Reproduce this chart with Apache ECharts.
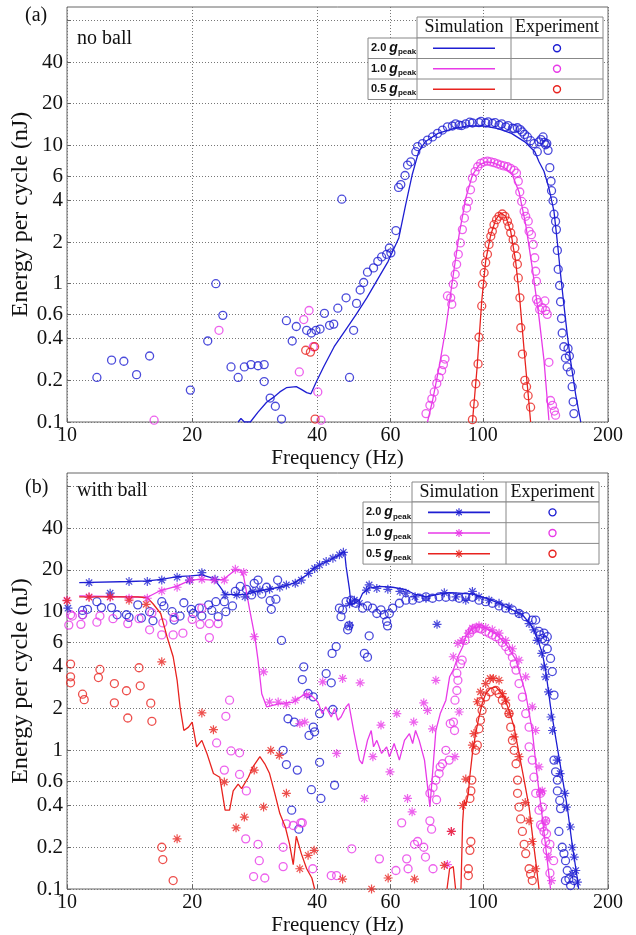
<!DOCTYPE html>
<html>
<head>
<meta charset="utf-8">
<script src="https://cdn.jsdelivr.net/npm/echarts@6/dist/echarts.min.js"></script>
<style>
  html, body { margin: 0; background: #fff; }
  #chart { width: 636px; height: 935px; }
</style>
</head>
<body>
<div id="chart"></div>
<script>
// ---- tick values ----
const xTicks = [10, 20, 40, 60, 100, 200]
const yLabels = [0.1, 0.2, 0.4, 0.6, 1, 2, 4, 6, 10, 20, 40]
const yGridVals = [0.1, 0.2, 0.4, 0.6, 1, 2, 4, 6, 10, 20, 40, 80]
const levels = ['2.0', '1.0', '0.5']

// ---- (a) no ball : [frequency Hz, energy nJ] ----
const aSim20 = [[25.8, 0.1], [26.2, 0.106], [26.7, 0.1], [27.6, 0.1], [28.8, 0.118], [30.2, 0.139], [31.3, 0.15], [32.5, 0.165], [33.7, 0.177], [35.6, 0.18], [36.6, 0.172], [37.7, 0.163], [38.6, 0.16], [39.6, 0.19], [41.4, 0.25], [43.9, 0.35], [46.7, 0.46], [49.6, 0.6], [52.6, 0.79], [55.8, 1.07], [59.2, 1.45], [62.8, 2.14], [65.2, 3.7], [67.6, 6.1], [70.1, 9.0], [72.7, 10.6], [78.0, 12.2], [84.9, 13.2], [92.2, 13.8], [100.2, 13.8], [108.8, 13.2], [117.2, 12.2], [126.2, 10.6], [133.4, 9.0], [136.5, 7.6], [140.3, 6.5], [144.2, 4.9], [148.3, 3.33], [151, 2.03], [153.8, 1.17], [156.6, 0.71], [159.6, 0.43], [162.5, 0.28], [167.1, 0.16], [172, 0.1]]
const aExp20 = [[11.8, 0.21], [12.8, 0.28], [13.7, 0.275], [14.7, 0.22], [15.8, 0.3], [19.8, 0.17], [21.8, 0.385], [22.8, 1.0], [23.7, 0.59], [24.8, 0.25], [25.8, 0.21], [26.7, 0.25], [27.7, 0.26], [28.8, 0.255], [29.8, 0.26], [29.8, 0.196], [30.8, 0.149], [31.7, 0.13], [32.8, 0.105], [33.7, 0.54], [34.8, 0.385], [35.6, 0.49], [37.7, 0.46], [38.7, 0.44], [39.7, 0.46], [40.6, 0.47], [41.6, 0.61], [42.8, 0.5], [43.8, 0.51], [44.8, 0.665], [45.8, 4.08], [46.9, 0.79], [47.8, 0.21], [48.9, 0.46], [49.7, 0.72], [50.7, 0.9], [51.7, 1.02], [52.8, 1.21], [54.6, 1.3], [55.9, 1.45], [57.1, 1.56], [58.7, 1.63], [59.6, 1.81], [60.1, 1.67], [61.8, 2.42], [62.7, 4.96], [63.5, 5.2], [65.0, 6.05], [65.9, 7.2], [67.1, 7.6], [69.0, 9.0], [69.7, 9.8], [71.6, 10.3], [73.6, 10.9], [75.7, 11.5], [77.8, 12.2], [80.0, 12.9], [82.2, 13.6], [84.5, 13.8], [86, 14.3], [87.7, 14.0], [89, 13.9], [91.0, 14.3], [93, 14.7], [94.4, 14.5], [97.9, 14.6], [99, 14.9], [101.6, 14.5], [103, 14.8], [105.4, 14.4], [107, 14.6], [109.4, 14.0], [111, 14.3], [113.5, 13.6], [115, 13.9], [117.8, 13.3], [119, 13.2], [121.1, 13.4], [123, 13.0], [124.5, 12.5], [126, 12.0], [128, 11.5], [130.3, 10.8], [132.7, 10.3], [135.2, 9.0], [136.5, 10.6], [138, 11.0], [139.6, 11.5], [140.5, 10.5], [141.6, 10.1], [142.5, 10.3], [143.5, 9.2], [144.9, 6.9], [145.9, 5.5], [146.3, 4.7], [147.5, 3.97], [148.3, 3.18], [149.6, 2.82], [150.3, 2.46], [151.1, 1.74], [151.8, 1.27], [153.0, 0.97], [153.8, 0.74], [154.6, 0.56], [155.2, 0.44], [156.6, 0.35], [158, 0.29], [159.5, 0.25], [160.3, 0.34], [161.5, 0.3], [162.5, 0.23], [164, 0.18], [164.9, 0.14], [165.6, 0.115]]
const aSim10 = [[73.6, 0.1], [75.7, 0.143], [78.5, 0.249], [81.5, 0.48], [84.5, 1.05], [87.7, 2.26], [91.0, 4.16], [94.4, 6.1], [97.9, 7.2], [101.6, 7.6], [105.4, 7.5], [109.4, 7.2], [113.5, 6.8], [117.8, 6.1], [122.2, 4.6], [126.8, 2.67], [131.5, 1.3], [136.5, 0.57], [140.3, 0.28], [144.2, 0.103]]
const aExp10 = [[16.2, 0.103], [23.2, 0.46], [36.2, 0.23], [37.1, 0.55], [38.2, 0.64], [39.1, 0.35], [40.1, 0.165], [40.8, 0.103], [73.0, 0.115], [74.6, 0.132], [75.4, 0.147], [76.4, 0.165], [77.5, 0.19], [78.5, 0.21], [79.6, 0.235], [80.4, 0.26], [81.1, 0.285], [82.2, 0.815], [83.7, 0.79], [84.2, 0.71], [84.9, 0.99], [85.8, 1.17], [86.5, 1.38], [87.3, 1.63], [88.3, 1.97], [89.3, 2.46], [90.3, 2.98], [91.4, 3.52], [92.3, 3.93], [93.4, 4.77], [94.4, 5.79], [95.8, 6.46], [97.2, 7.0], [98.8, 7.4], [100.7, 7.6], [102.6, 7.7], [104.5, 7.6], [106.4, 7.5], [108.4, 7.35], [110.4, 7.2], [112.4, 7.1], [114.6, 7.0], [116.7, 6.8], [118.9, 6.6], [120.5, 6.3], [121.7, 5.5], [122.7, 4.6], [124, 3.93], [125.7, 3.33], [126.8, 3.07], [128.6, 2.83], [129.2, 2.39], [130.9, 2.26], [132.2, 1.92], [133.3, 1.54], [134, 1.23], [134.6, 1.04], [134.6, 0.77], [135.9, 0.73], [137, 0.65], [139, 0.67], [141, 0.75], [141.6, 0.64], [142.9, 0.6], [144.2, 0.27], [145.5, 0.143], [147.1, 0.132], [148.6, 0.12], [149.6, 0.112]]
const aSim05 = [[94.4, 0.1], [96.9, 0.25], [99.4, 0.75], [101.6, 1.46], [104.5, 2.26], [107.4, 2.9], [110.4, 3.24], [113.5, 3.07], [116.7, 2.39], [119.9, 1.46], [122.8, 0.75], [125.7, 0.33], [128.5, 0.16], [130.3, 0.1]]
const aExp05 = [[37.5, 0.33], [38.5, 0.32], [39.4, 0.35], [39.5, 0.105], [94.4, 0.104], [95.3, 0.135], [96.2, 0.189], [97.4, 0.263], [97.9, 0.41], [99.4, 0.69], [99.8, 0.99], [100.7, 1.2], [101.6, 1.42], [102.6, 1.63], [103.5, 1.92], [104.5, 2.2], [105.4, 2.39], [106.4, 2.67], [107.9, 2.9], [109.4, 3.07], [111.4, 3.19], [113, 3.07], [114.6, 2.83], [115.6, 2.6], [116.7, 2.33], [118.3, 2.08], [119.4, 1.81], [120.5, 1.58], [121.1, 1.38], [121.7, 1.1], [122.8, 0.79], [123.4, 0.48], [124.5, 0.31], [126.2, 0.2], [127.4, 0.18], [128.5, 0.155], [130.3, 0.128]]

// ---- (b) with ball ----
const bSim20Line = [[10.7, 16.2], [14.2, 16.5], [15.6, 16.7], [16.9, 17.1], [18.4, 17.9], [19.8, 18.1], [21.1, 18.4], [22.5, 17.4], [23.3, 15.2], [24.0, 13.4], [25.6, 13.2], [27.0, 13.4], [28.6, 14.0], [30.2, 14.5], [32.5, 15.0], [35.0, 16.0], [37.7, 18.4], [39.4, 20.8], [40.5, 21.7], [42.8, 23.6], [45.2, 25.7], [46.5, 27.2], [46.9, 21.2], [47.8, 14.4], [48.2, 11.2], [49.1, 11.5], [50.5, 12.1], [51.4, 13.6], [53.3, 14.8], [56.4, 15.2], [60.7, 15.0], [65.3, 14.4], [68.4, 13.4], [73.0, 12.8], [78.5, 13.4], [83.0, 13.7], [87.7, 13.6], [94.4, 13.4], [101.6, 12.5], [109.4, 11.5], [117.8, 10.3], [124.5, 9.5], [131.5, 7.8], [136.5, 5.9], [139, 5.0], [141.6, 3.79], [145.5, 2.06], [149.6, 1.25], [153.8, 0.76], [159.6, 0.39], [164, 0.21], [168.7, 0.12], [170, 0.1]]
const bSim20Stars = [[10.05, 10.6], [11.3, 16.2], [12.7, 13.6], [14.1, 16.5], [15.6, 16.5], [16.9, 16.9], [18.4, 17.7], [19.7, 16.9], [21.1, 19.1], [22.7, 17.1], [24.0, 13.2], [25.6, 13.2], [26.8, 12.8], [28.0, 14.0], [29.1, 14.3], [30.7, 14.5], [32.5, 15.0], [33.7, 15.6], [35.4, 16.0], [36.6, 16.9], [38.1, 18.9], [39.4, 20.5], [40.5, 21.7], [42.0, 23.0], [43.6, 24.3], [45.2, 25.7], [46.2, 26.8], [47.8, 8.0], [47.8, 11.4], [49.1, 12.1], [50.5, 11.5], [52.5, 14.3], [53.3, 15.6], [55.6, 14.7], [59.1, 14.5], [63.2, 14.0], [65.3, 13.6], [68.7, 12.8], [73.0, 12.5], [77.6, 8.1], [80.8, 13.7], [86.2, 12.8], [91.0, 12.1], [94.4, 14.0], [97.9, 12.8], [103.5, 12.1], [109.4, 11.5], [115.6, 10.8], [122.2, 9.7], [129.2, 8.2], [132.7, 7.4], [135.1, 6.2], [138.6, 5.0], [140.3, 4.0], [141.6, 3.39], [143.9, 2.64], [145.9, 1.74], [147.1, 1.39], [151, 0.85], [153.4, 0.68], [157.5, 0.49], [158.8, 0.39], [162.5, 0.28], [164, 0.2], [165.9, 0.17], [167.3, 0.136], [168.8, 0.112], [164.2, 0.128]]
const bExp20 = [[10.9, 10.2], [10.9, 9.5], [11.2, 10.4], [11.8, 11.8], [12.1, 10.7], [12.8, 10.7], [13.2, 9.5], [13.9, 9.5], [14.1, 9.1], [14.8, 11.2], [15.1, 9.0], [15.8, 10.0], [16.1, 8.6], [16.9, 11.8], [17.1, 11.0], [17.9, 10.0], [18.1, 8.7], [18.7, 9.3], [19.1, 11.6], [19.9, 10.4], [20.1, 9.7], [20.8, 10.6], [21.1, 9.3], [21.9, 11.2], [22.3, 10.2], [22.8, 11.8], [23.1, 9.2], [23.9, 11.8], [24.1, 10.0], [25.0, 11.0], [25.4, 14.0], [26.1, 15.2], [27.0, 14.5], [27.8, 13.2], [28.2, 16.0], [28.8, 16.9], [29.4, 13.4], [30.2, 15.0], [30.8, 12.0], [31.0, 10.4], [31.8, 12.3], [32.1, 16.9], [32.8, 6.2], [34.0, 1.69], [35.2, 1.6], [37.1, 4.0], [36.8, 3.24], [38.0, 2.57], [39.1, 2.43], [38.2, 1.28], [39.1, 1.47], [33.1, 1.0], [33.7, 0.79], [35.8, 0.72], [38.7, 0.52], [34.7, 0.37], [36.1, 0.27], [39.4, 1.36], [40.5, 1.84], [43.6, 1.97], [42.0, 3.58], [43.2, 3.07], [40.5, 0.82], [40.8, 0.45], [44.0, 0.56], [43.4, 5.0], [44.4, 5.6], [45.2, 10.6], [45.6, 9.2], [46.0, 10.3], [46.9, 11.8], [47.3, 7.4], [47.6, 7.9], [48.2, 12.1], [49.5, 11.5], [51.4, 10.6], [51.9, 5.0], [52.8, 4.7], [53.3, 6.7], [52.8, 11.0], [54.3, 10.6], [55.6, 9.7], [56.9, 10.3], [57.9, 9.5], [58.7, 8.5], [59.0, 7.9], [59.6, 9.7], [60.7, 10.6], [63.0, 11.5], [65.3, 12.1], [67.8, 12.1], [70.3, 12.5], [73.0, 12.8], [75.7, 12.5], [78.5, 12.8], [81.5, 12.7], [84.5, 12.8], [87.7, 12.5], [91.0, 12.8], [94.4, 12.7], [97.9, 12.1], [101.6, 11.8], [105.4, 11.5], [109.4, 11.0], [113.5, 10.6], [117.8, 10.3], [122.2, 9.7], [126.8, 9.2], [131.5, 8.7], [134, 8.7], [136.5, 7.2], [137.4, 6.8], [139.2, 6.4], [140.3, 7.0], [141, 6.2], [142.9, 6.6], [142.9, 5.4], [145.5, 4.6], [146.9, 3.7], [148.3, 2.5], [148.3, 0.85], [149.6, 0.7], [151.1, 0.61], [151.1, 0.51], [153.1, 0.435], [153.8, 0.38], [152.4, 0.26], [155.2, 0.2], [156.7, 0.18], [158.1, 0.16], [159.6, 0.136], [161.1, 0.118], [162.6, 0.106], [165.6, 0.115], [158, 0.115]]
const bSim10Line = [[10.7, 13.0], [15.6, 12.7], [16.7, 14.1], [18.4, 15.3], [19.8, 16.9], [20.9, 17.1], [22.5, 16.9], [23.8, 17.1], [25.4, 20.0], [26.1, 19.9], [26.6, 17.9], [27.5, 10.3], [28.3, 6.6], [28.8, 4.47], [29.4, 2.56], [30.2, 2.06], [32.5, 2.17], [35.0, 2.23], [37.0, 2.5], [37.6, 2.57], [39.0, 2.43], [40.1, 2.23], [41.1, 1.84], [41.9, 2.06], [43.2, 1.74], [44.0, 2.0], [44.8, 1.65], [45.6, 1.74], [46.9, 2.06], [47.6, 2.17], [48.9, 1.39], [50.5, 0.85], [51.3, 0.8], [52.8, 1.18], [53.9, 1.39], [54.6, 1.06], [55.6, 1.18], [57.1, 0.95], [58.7, 1.06], [59.6, 0.9], [61.2, 1.12], [63.0, 0.85], [64.8, 1.18], [66.6, 1.32], [67.8, 1.12], [68.9, 1.39], [70.3, 1.18], [72.4, 0.85], [74.6, 0.39], [75.7, 0.68], [77.1, 1.39], [79.0, 1.84], [81.5, 2.3], [83.2, 3.39], [84.9, 3.79], [87.1, 4.73], [89.5, 5.6], [91.0, 6.6], [94.4, 7.6], [97.9, 7.8], [101.6, 7.6], [107.4, 6.9], [113.5, 5.9], [120.2, 4.47], [126.8, 2.56], [131.5, 1.39], [135.2, 0.64], [139, 0.33], [142.9, 0.16], [145.5, 0.1]]
const bSim10Stars = [[10.0, 12.1], [11.3, 12.8], [12.7, 12.7], [14.1, 12.5], [15.6, 12.5], [16.9, 14.1], [18.4, 15.0], [19.8, 16.9], [21.1, 17.1], [22.6, 16.9], [23.9, 16.9], [25.4, 20.2], [26.6, 19.2], [28.2, 6.6], [29.7, 3.68], [30.7, 2.23], [32.2, 2.23], [33.7, 2.15], [35.4, 2.3], [36.3, 1.56], [37.7, 2.5], [37.3, 1.6], [41.2, 3.12], [44.5, 0.95], [46.0, 3.3], [50.7, 3.07], [51.9, 0.45], [54.4, 0.9], [56.9, 1.52], [59.8, 0.7], [62.1, 1.84], [65.9, 0.45], [67.6, 0.36], [68.2, 1.6], [72.1, 2.2], [73.6, 1.94], [75.7, 1.43], [77.1, 3.2], [82.2, 0.15], [84.0, 0.26], [84.9, 4.73], [85.7, 0.9], [87.1, 5.9], [87.7, 1.89], [89.4, 6.2], [92.3, 7.0], [94.4, 7.6], [97.9, 7.9], [101.6, 7.7], [105.4, 7.4], [109.4, 7.0], [113.5, 6.2], [117.8, 5.4], [122.2, 4.47], [126.8, 3.39], [131.5, 2.06], [134, 1.39], [136.5, 0.76], [137.7, 0.5], [139, 0.51], [141.6, 0.31], [143.9, 0.17], [146.3, 0.115]]
const bExp10 = [[10.2, 9.5], [10.1, 8.0], [10.3, 9.3], [10.9, 9.5], [10.8, 8.1], [12.0, 9.3], [11.8, 8.4], [12.9, 8.9], [14.0, 8.2], [14.9, 8.9], [16.0, 9.8], [15.8, 7.4], [16.9, 6.8], [17.0, 8.3], [18.1, 9.1], [18.0, 6.8], [19.0, 7.0], [20.0, 8.8], [20.9, 8.1], [21.1, 10.6], [22.0, 8.2], [22.0, 6.5], [23.1, 8.2], [24.6, 2.3], [24.1, 1.76], [22.9, 1.13], [24.8, 0.99], [26.0, 0.96], [23.9, 0.72], [26.0, 0.67], [27.0, 0.51], [26.9, 0.23], [28.8, 0.21], [29.0, 0.16], [28.1, 0.123], [29.9, 0.12], [33.1, 0.145], [33.1, 0.2], [33.7, 0.295], [35.0, 0.287], [36.8, 0.3], [36.5, 0.3], [39.0, 0.14], [43.2, 0.125], [44.5, 0.125], [48.4, 0.195], [56.4, 0.165], [61.8, 0.136], [63.8, 0.3], [65.6, 0.165], [66.1, 0.14], [68.5, 0.21], [69.7, 0.22], [72.1, 0.2], [72.8, 0.17], [74.6, 0.31], [75.3, 0.27], [75.9, 0.14], [74.6, 0.49], [75.9, 0.54], [77.1, 0.61], [77.4, 0.44], [78.5, 0.68], [79.0, 0.76], [80.0, 0.8], [81.5, 1.0], [83.0, 0.85], [83.5, 1.56], [85.0, 1.6], [85.5, 1.39], [85.7, 2.3], [86.6, 2.7], [87.1, 3.2], [86.6, 3.6], [88.4, 4.2], [89.2, 4.47], [90.6, 6.2], [93.0, 7.0], [94.4, 7.4], [96, 7.6], [98, 7.6], [99, 7.5], [101.6, 7.2], [103.5, 7.0], [105.4, 6.8], [107.4, 6.6], [109.4, 6.4], [111.4, 6.0], [113.5, 5.6], [115.6, 5.2], [117.8, 4.7], [119, 4.2], [120.2, 3.79], [122.2, 3.03], [124.5, 2.42], [126.8, 1.84], [129.2, 1.47], [129.2, 1.06], [131.5, 0.85], [132.7, 0.64], [134, 0.49], [136.5, 0.37], [137.7, 0.29], [137.7, 0.49], [138.9, 0.28], [139.2, 0.39], [140.3, 0.26], [141.6, 0.22], [141.6, 0.31], [142.3, 0.25], [142.9, 0.19], [145, 0.21], [145, 0.13], [148, 0.16]]
const bSim05Line = [
  [[10.7, 12.8], [14.8, 12.8], [15.6, 12.6], [16.1, 11.4], [16.8, 9.7], [17.4, 6.6], [18.0, 4.73], [18.4, 3.2], [18.7, 2.06], [19.1, 1.39], [19.6, 1.47], [20.0, 1.6], [20.5, 1.06], [21.1, 1.18], [21.7, 0.95], [22.5, 0.68], [23.3, 0.64], [24.0, 0.37], [24.6, 0.37], [25.1, 0.51], [25.8, 0.57], [26.3, 0.53], [27.3, 0.64], [28.0, 0.76], [29.1, 0.9], [29.9, 0.8], [30.7, 0.68], [31.6, 0.49], [32.5, 0.35], [33.5, 0.28], [34.3, 0.21], [35.0, 0.15], [35.6, 0.24], [36.6, 0.18], [37.7, 0.14], [38.8, 0.12], [39.4, 0.1]],
  [[82, 0.1], [83.2, 0.14], [84.9, 0.145], [86, 0.1]],
  [[88.6, 0.1], [89.4, 0.3], [90.2, 0.44], [91.0, 0.4], [92.3, 0.49], [93.0, 0.64], [94.4, 0.95], [96.1, 1.32], [97.9, 1.74], [99.6, 2.17], [101.6, 2.56], [104.1, 2.79], [107.4, 2.87], [109.4, 2.71], [112.5, 2.43], [115.6, 1.94], [118.9, 1.47], [122.2, 0.95], [125.7, 0.61], [129.2, 0.39], [131.5, 0.25], [134, 0.16], [136.5, 0.1]]
]
const bSim05Stars = [[10.0, 12.0], [11.3, 12.7], [12.7, 12.8], [14.1, 12.1], [15.5, 11.3], [16.9, 4.35], [18.4, 0.23], [21.1, 1.86], [22.5, 1.41], [23.9, 0.59], [25.5, 0.276], [26.7, 0.33], [28.2, 0.72], [29.7, 0.39], [30.9, 1.0], [32.4, 0.92], [33.7, 0.49], [36.3, 0.14], [38.0, 0.175], [39.3, 0.19], [46.0, 0.118], [54.0, 0.1], [59.2, 0.12], [68.5, 0.118], [80.8, 0.148], [84.0, 0.26], [89.4, 0.4], [91.0, 0.62], [94.4, 1.09], [95.2, 1.32], [97.0, 2.24], [98.7, 2.64], [101.6, 3.03], [104.1, 3.3], [106, 3.3], [109.4, 3.2], [111.4, 2.56], [113.5, 2.3], [115.6, 1.84], [118.9, 1.25], [122.2, 0.9], [126.5, 0.42], [129.2, 0.31], [131.5, 0.22], [134, 0.14]]
const bExp05 = [[10.2, 4.19], [10.2, 3.39], [10.2, 3.07], [10.9, 2.54], [11.0, 2.32], [12.0, 3.83], [11.9, 3.35], [13.0, 3.03], [13.0, 2.2], [13.9, 2.69], [14.0, 1.71], [14.9, 3.94], [15.0, 2.92], [15.9, 2.19], [16.0, 1.62], [16.9, 0.2], [17.0, 0.163], [18.0, 0.115], [92.3, 0.125], [92.3, 0.14], [93.1, 0.19], [93.6, 0.22], [93.1, 0.45], [93.6, 0.51], [94.1, 0.61], [96.1, 1.0], [97.0, 1.09], [97.9, 1.43], [98.7, 1.65], [99.6, 1.94], [98.7, 2.24], [101.6, 2.43], [104.1, 2.64], [107.4, 2.71], [109.4, 2.56], [111.4, 2.3], [113.5, 2.12], [115.6, 1.84], [116.7, 1.47], [117.8, 1.18], [118.9, 1.0], [120.2, 0.8], [121.2, 0.61], [121.2, 0.49], [122.2, 0.39], [123.3, 0.32], [124.5, 0.26], [125.7, 0.21], [126.8, 0.18], [129.2, 0.14], [130.3, 0.128], [131.5, 0.115]]

// ---- style ----
const BLUE = '#1e1ed2'
const MAG = '#e83ae8'
const RED = '#e8231f'
const colors = [BLUE, MAG, RED]
const SERIF = '"Liberation Serif", "Times New Roman", serif'
const SANS = '"Liberation Sans", Arial, sans-serif'
const STAR = 'path://M0,-10L0,10M-10,0L10,0M-7,-7L7,7M-7,7L7,-7'

const panels = [{top: 7, height: 415}, {top: 473, height: 416}]

function xAxisFor (i) {
  return {
    type: 'log', logBase: 10, gridIndex: i, min: 10, max: 200,
    name: 'Frequency (Hz)', nameLocation: 'middle', nameGap: 26,
    nameTextStyle: {fontFamily: SERIF, fontSize: 21, color: '#111'},
    axisLine: {show: false},
    axisTick: {show: true, inside: true, length: 4, customValues: xTicks, lineStyle: {color: '#666'}},
    axisLabel: {customValues: xTicks, fontFamily: SERIF, fontSize: 20, color: '#111', margin: 4},
    splitLine: {show: true, lineStyle: {color: '#777', type: [1, 2], width: 1}}
  }
}
function yAxisFor (i) {
  return {
    type: 'log', logBase: 10, gridIndex: i, min: 0.1, max: 100,
    name: 'Energy per cycle (nJ)', nameLocation: 'middle', nameGap: 34, nameMoveOverlap: false,
    nameTextStyle: {fontFamily: SERIF, fontSize: 24, color: '#111'},
    axisLine: {show: false},
    axisTick: {show: true, inside: true, length: 4, customValues: yGridVals, lineStyle: {color: '#666'}},
    axisLabel: {customValues: yLabels, fontFamily: SERIF, fontSize: 21, color: '#111', margin: 4},
    splitLine: {show: true, lineStyle: {color: '#777', type: [1, 2], width: 1}}
  }
}

function lineSeries (i, data, color) {
  return {type: 'line', xAxisIndex: i, yAxisIndex: i, data: data, symbol: 'none', showSymbol: false,
    lineStyle: {color: color, width: 1.3}, itemStyle: {color: color}, silent: true, z: 3}
}
function circleSeries (i, data, color) {
  return {type: 'scatter', xAxisIndex: i, yAxisIndex: i, data: data, symbol: 'circle', symbolSize: 8,
    itemStyle: {color: 'rgba(0,0,0,0)', borderColor: color, borderWidth: 1.3}, silent: true, z: 2}
}
function starSeries (i, data, color) {
  return {type: 'scatter', xAxisIndex: i, yAxisIndex: i, data: data, symbol: STAR, symbolSize: 9,
    itemStyle: {color: 'rgba(0,0,0,0)', borderColor: color, borderWidth: 1.2}, silent: true, z: 4}
}

const series = [
  lineSeries(0, aSim20, BLUE), lineSeries(0, aSim10, MAG), lineSeries(0, aSim05, RED),
  circleSeries(0, aExp20, BLUE), circleSeries(0, aExp10, MAG), circleSeries(0, aExp05, RED),
  lineSeries(1, bSim20Line, BLUE), lineSeries(1, bSim10Line, MAG),
  starSeries(1, bSim20Stars, BLUE), starSeries(1, bSim10Stars, MAG), starSeries(1, bSim05Stars, RED),
  circleSeries(1, bExp20, BLUE), circleSeries(1, bExp10, MAG), circleSeries(1, bExp05, RED)
]
bSim05Line.forEach(seg => series.push(lineSeries(1, seg, RED)))

// ---- legend tables (drawn as graphic) ----
function legendTable (x0, xa, xb, x1, yh, y0, rowH, withStar) {
  const els = []
  const y1 = y0 + rowH * 3
  const stroke = '#888'
  els.push({type: 'rect', shape: {x: xa, y: yh, width: x1 - xa, height: y0 - yh}, style: {fill: '#fff', stroke: stroke, lineWidth: 1}})
  els.push({type: 'rect', shape: {x: x0, y: y0, width: x1 - x0, height: y1 - y0}, style: {fill: '#fff', stroke: stroke, lineWidth: 1}})
  els.push({type: 'line', shape: {x1: xa, y1: y0, x2: xa, y2: y1}, style: {stroke: stroke}})
  els.push({type: 'line', shape: {x1: xb, y1: yh, x2: xb, y2: y1}, style: {stroke: stroke}})
  for (let r = 1; r < 3; r++) {
    els.push({type: 'line', shape: {x1: x0, y1: y0 + rowH * r, x2: x1, y2: y0 + rowH * r}, style: {stroke: stroke}})
  }
  const hy = (yh + y0) / 2
  els.push({type: 'text', x: (xa + xb) / 2, y: hy, style: {text: 'Simulation', font: '18px ' + SERIF, fill: '#111', align: 'center', verticalAlign: 'middle'}})
  els.push({type: 'text', x: (xb + x1) / 2, y: hy, style: {text: 'Experiment', font: '18px ' + SERIF, fill: '#111', align: 'center', verticalAlign: 'middle'}})
  levels.forEach((lv, r) => {
    const cy = y0 + rowH * r + rowH / 2
    const c = colors[r]
    els.push({type: 'text', x: x0 + 3, y: cy, style: {
      text: '{n|' + lv + ' }{g|g}{s|peak}', verticalAlign: 'middle', fill: '#111',
      rich: {
        n: {fontFamily: SANS, fontWeight: 'bold', fontSize: 11, verticalAlign: 'middle', lineHeight: 16},
        g: {fontFamily: SANS, fontWeight: 'bold', fontStyle: 'italic', fontSize: 14, verticalAlign: 'middle', lineHeight: 16},
        s: {fontFamily: SANS, fontWeight: 'bold', fontSize: 8, verticalAlign: 'bottom', lineHeight: 16}
      }
    }})
    const lx = xa + 16
    const lw = xb - xa - 32
    els.push({type: 'line', shape: {x1: lx, y1: cy, x2: lx + lw, y2: cy}, style: {stroke: c, lineWidth: 1.6}})
    if (withStar) {
      const sx = lx + lw / 2
      const arms = [[0, 4], [4, 0], [2.8, 2.8], [2.8, -2.8]]
      arms.forEach(a => {
        els.push({type: 'line', shape: {x1: sx - a[0], y1: cy - a[1], x2: sx + a[0], y2: cy + a[1]}, style: {stroke: c, lineWidth: 1.1}})
      })
    }
    els.push({type: 'circle', shape: {cx: (xb + x1) / 2, cy: cy, r: 3.5}, style: {stroke: c, lineWidth: 1.4, fill: 'rgba(0,0,0,0)'}})
  })
  els.forEach(e => { e.z = 100 })
  return {type: 'group', children: els}
}

const textStyle = (s, size) => ({text: s, font: size + 'px ' + SERIF, fill: '#111', verticalAlign: 'middle'})

const option = {
  animation: false,
  backgroundColor: '#fff',
  grid: panels.map(p => ({left: 67, width: 541, top: p.top, height: p.height, outerBoundsMode: 'none', containLabel: false,
    show: true, borderColor: '#666', borderWidth: 1, backgroundColor: 'rgba(0,0,0,0)'})),
  xAxis: [xAxisFor(0), xAxisFor(1)],
  yAxis: [yAxisFor(0), yAxisFor(1)],
  series: series,
  graphic: [
    {type: 'text', x: 25, y: 16, style: textStyle('(a)', 20)},
    {type: 'text', x: 77, y: 39, style: textStyle('no ball', 20)},
    {type: 'text', x: 25, y: 488, style: textStyle('(b)', 20)},
    {type: 'text', x: 77, y: 491, style: textStyle('with ball', 20)},
    legendTable(368, 417, 511, 603, 17, 38, 20.5, false),
    legendTable(363, 412, 506, 599, 482, 502, 20.7, true)
  ]
}

const myChart = echarts.init(document.getElementById('chart'))
myChart.setOption(option)
</script>
</body>
</html>
